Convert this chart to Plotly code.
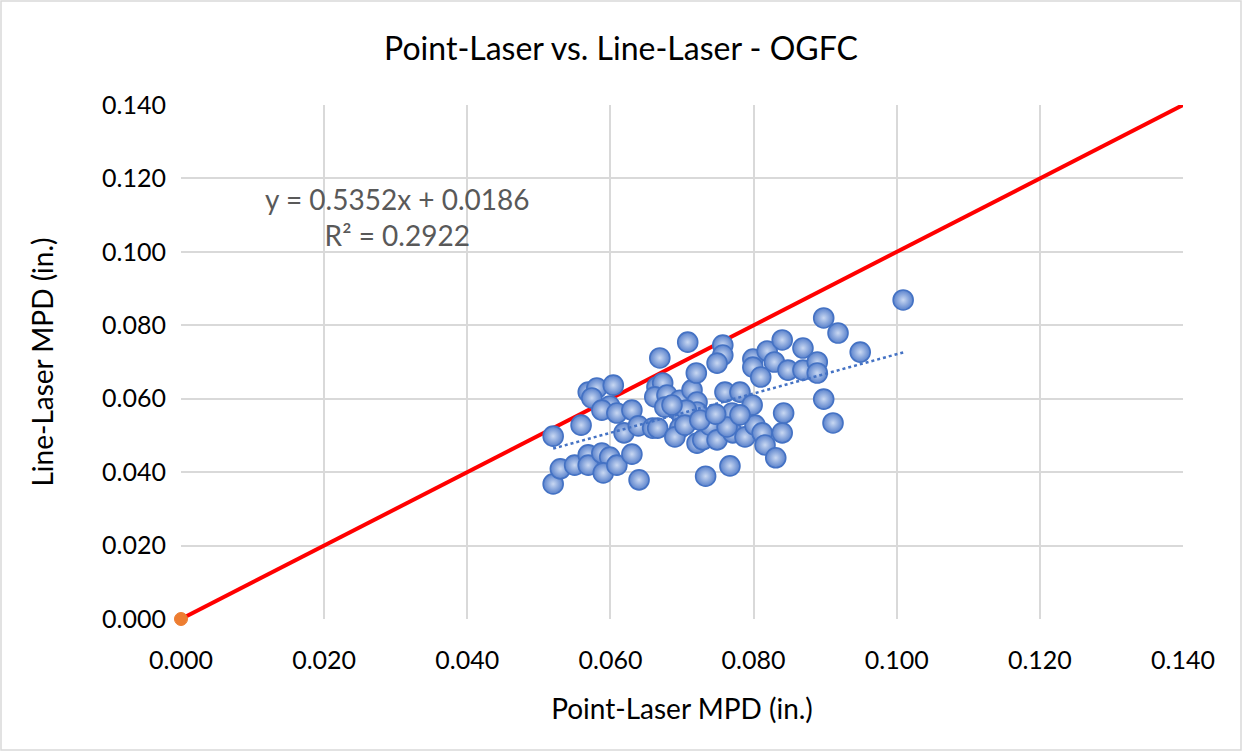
import plotly.graph_objects as go

# Point-laser vs line-laser mean profile depth, OGFC sections (inches)
point_laser_mpd = [
    0.0520, 0.0520, 0.0530, 0.0550, 0.0559, 0.0569, 0.0581, 0.0604, 0.0574, 0.0599,
    0.0588, 0.0609, 0.0630, 0.0569, 0.0569, 0.0588, 0.0599, 0.0590, 0.0609, 0.0630,
    0.0640, 0.0619, 0.0639, 0.0659, 0.0669, 0.0665, 0.0673, 0.0662, 0.0679, 0.0676,
    0.0697, 0.0694, 0.0701, 0.0714, 0.0721, 0.0721, 0.0711, 0.0697, 0.0666, 0.0690,
    0.0708, 0.0720, 0.0757, 0.0757, 0.0749, 0.0721, 0.0729, 0.0739, 0.0749, 0.0733,
    0.0760, 0.0770, 0.0781, 0.0771, 0.0798, 0.0788, 0.0802, 0.0812, 0.0816, 0.0831,
    0.0840, 0.0842, 0.0767, 0.0799, 0.0799, 0.0810, 0.0819, 0.0829, 0.0840, 0.0848,
    0.0869, 0.0869, 0.0889, 0.0889, 0.0898, 0.0918, 0.0949, 0.0898, 0.0911, 0.1009,
    0.0763, 0.0706, 0.0686, 0.0704, 0.0725, 0.0781, 0.0747,
]
line_laser_mpd = [
    0.0498, 0.0368, 0.0409, 0.0419, 0.0528, 0.0618, 0.0629, 0.0637, 0.0602, 0.0580,
    0.0569, 0.0561, 0.0569, 0.0447, 0.0419, 0.0452, 0.0441, 0.0398, 0.0419, 0.0449,
    0.0379, 0.0507, 0.0526, 0.0520, 0.0711, 0.0632, 0.0643, 0.0605, 0.0610, 0.0577,
    0.0596, 0.0569, 0.0547, 0.0624, 0.0591, 0.0564, 0.0542, 0.0520, 0.0520, 0.0496,
    0.0754, 0.0670, 0.0746, 0.0719, 0.0697, 0.0479, 0.0488, 0.0528, 0.0488, 0.0389,
    0.0618, 0.0561, 0.0618, 0.0507, 0.0583, 0.0496, 0.0528, 0.0507, 0.0474, 0.0439,
    0.0507, 0.0561, 0.0417, 0.0708, 0.0686, 0.0659, 0.0730, 0.0700, 0.0760, 0.0678,
    0.0738, 0.0678, 0.0700, 0.0670, 0.0820, 0.0779, 0.0727, 0.0599, 0.0534, 0.0869,
    0.0523, 0.0569, 0.0583, 0.0528, 0.0542, 0.0556, 0.0558,
]

# Linear trendline coefficients and fit statistic
trend_slope = 0.5352
trend_intercept = 0.0186
trend_r2 = 0.2922

# Line of equality and origin marker
equality_x = [0.0, 0.14]
equality_y = [0.0, 0.14]
origin_x = [0.0]
origin_y = [0.0]

tick_vals = [0.0, 0.02, 0.04, 0.06, 0.08, 0.10, 0.12, 0.14]
tick_text = ["0.000", "0.020", "0.040", "0.060", "0.080", "0.100", "0.120", "0.140"]

FONT = "Lato, 'Open Sans', sans-serif"

x_lo, x_hi = min(point_laser_mpd), max(point_laser_mpd)
trend_x = [x_lo, x_hi]
trend_y = [trend_slope * v + trend_intercept for v in trend_x]

fig = go.Figure()

fig.add_trace(go.Scatter(
    x=equality_x, y=equality_y, mode="lines",
    line=dict(color="#FF0000", width=4), hoverinfo="skip", showlegend=False,
))

fig.add_trace(go.Scatter(
    x=point_laser_mpd, y=line_laser_mpd, mode="markers",
    marker=dict(
        size=20, color="#5A82CC",
        gradient=dict(type="radial", color="#C9D8F2"),
        line=dict(color="#4472C4", width=1.6),
    ),
    showlegend=False,
))

fig.add_trace(go.Scatter(
    x=trend_x, y=trend_y, mode="lines",
    line=dict(color="#4472C4", width=2.5, dash="dot"),
    hoverinfo="skip", showlegend=False,
))

fig.add_trace(go.Scatter(
    x=origin_x, y=origin_y, mode="markers",
    marker=dict(size=13, color="#ED7D31", line=dict(color="#ED7D31", width=1)),
    cliponaxis=False, showlegend=False,
))

fig.add_annotation(
    x=0.0302, y=0.1096, xref="x", yref="y", showarrow=False,
    text=f"y = {trend_slope:.4f}x + {trend_intercept:.4f}<br>R² = {trend_r2:.4f}",
    font=dict(family=FONT, size=28, color="#595959"), align="center",
)

axis_common = dict(
    range=[0, 0.14], tickvals=tick_vals, ticktext=tick_text,
    showgrid=True, gridcolor="#D9D9D9", gridwidth=1.6,
    zeroline=False, showline=False, ticks="",
    tickfont=dict(family=FONT, size=25, color="#000000"),
)

fig.update_layout(
    width=1242, height=751,
    paper_bgcolor="white", plot_bgcolor="white",
    margin=dict(l=181, r=59, t=105, b=132),
    title=dict(
        text="Point-Laser vs. Line-Laser - OGFC",
        x=0.5, xanchor="center", y=0.935, yanchor="middle",
        font=dict(family=FONT, size=32, color="#000000"),
    ),
    xaxis=dict(
        **axis_common,
        ticklabelstandoff=24,
        title=dict(text="Point-Laser MPD (in.)", standoff=26,
                   font=dict(family=FONT, size=28, color="#000000")),
    ),
    yaxis=dict(
        **axis_common,
        ticklabelstandoff=14,
        title=dict(text="Line-Laser MPD (in.)", standoff=40,
                   font=dict(family=FONT, size=28, color="#000000")),
    ),
    shapes=[dict(
        type="rect", xref="paper", yref="paper",
        x0=-180 / 1002, x1=1 + 58 / 1002, y0=-131 / 514, y1=1 + 104 / 514,
        line=dict(color="#D9D9D9", width=1.5), fillcolor="rgba(0,0,0,0)",
    )],
)

fig.write_html("out.html")
